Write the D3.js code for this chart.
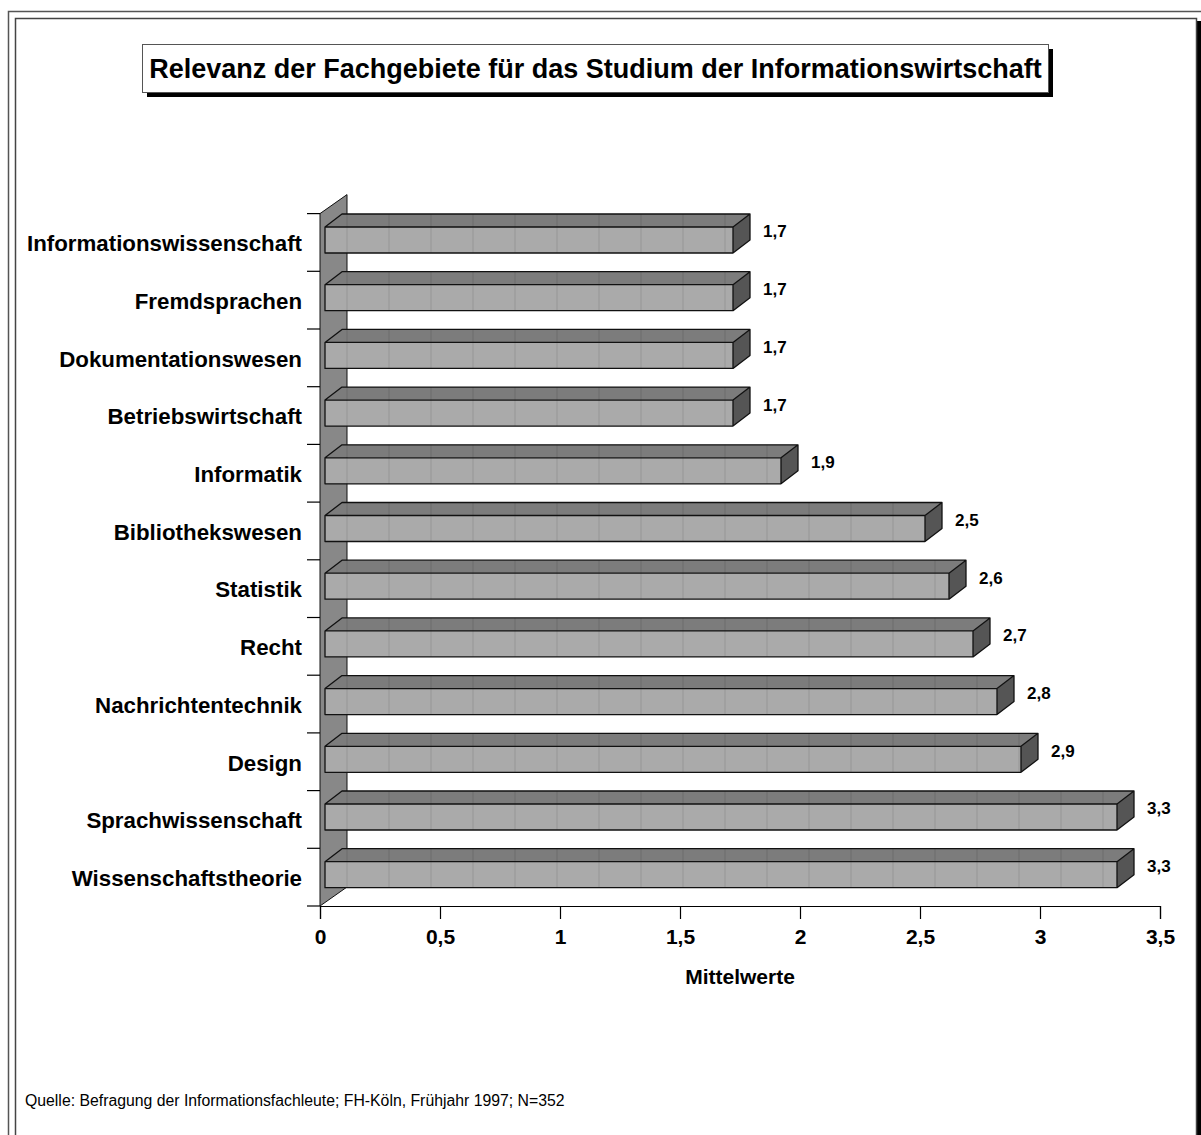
<!DOCTYPE html>
<html>
<head>
<meta charset="utf-8">
<script src="https://cdn.jsdelivr.net/npm/d3@7"></script>
<style>
  body { margin: 0; background: #fff; }
  svg { display: block; font-family: "Liberation Sans", Arial, sans-serif; }
</style>
</head>
<body>
<svg width="1201" height="1135"></svg>
<script>
// data
const categories = [
  "Informationswissenschaft", "Fremdsprachen", "Dokumentationswesen",
  "Betriebswirtschaft", "Informatik", "Bibliothekswesen", "Statistik",
  "Recht", "Nachrichtentechnik", "Design", "Sprachwissenschaft",
  "Wissenschaftstheorie"
];
const values = [1.7, 1.7, 1.7, 1.7, 1.9, 2.5, 2.6, 2.7, 2.8, 2.9, 3.3, 3.3];
const xTicks = [0, 0.5, 1, 1.5, 2, 2.5, 3, 3.5];

const titleText = "Relevanz der Fachgebiete für das Studium der Informationswirtschaft";
const axisTitle = "Mittelwerte";
const sourceText = "Quelle: Befragung der Informationsfachleute; FH-Köln, Frühjahr 1997; N=352";

const svg = d3.select("svg");
const fmt = d => String(d).replace(".", ",");

// frames
svg.append("rect").attr("x", 8.5).attr("y", 11.5).attr("width", 1200).attr("height", 1130)
  .attr("fill", "none").attr("stroke", "#555").attr("stroke-width", 1.5);
svg.append("rect").attr("x", 1197).attr("y", 21).attr("width", 6).attr("height", 1120).attr("fill", "#000");
svg.append("rect").attr("x", 15.5).attr("y", 18.5).attr("width", 1181).attr("height", 1125)
  .attr("fill", "#fff").attr("stroke", "#444").attr("stroke-width", 1.5);

// title box with shadow
svg.append("rect").attr("x", 147).attr("y", 49).attr("width", 906).attr("height", 48).attr("fill", "#000");
svg.append("rect").attr("x", 142.5).attr("y", 44.5).attr("width", 906).attr("height", 48)
  .attr("fill", "#fff").attr("stroke", "#555").attr("stroke-width", 1);
svg.append("text").attr("x", 595.5).attr("y", 78).attr("text-anchor", "middle")
  .attr("font-size", 27).attr("font-weight", "bold").text(titleText);

// scales
const x = d3.scaleLinear().domain([0, 3.5]).range([320, 1160]);
const y = d3.scaleBand().domain(categories).range([213.6, 906]);

const wallDx = 27, wallDy = -19;   // depth of the wall
const barDx = 17, barDy = -13;     // depth of a bar
const frontOff = 5;                // bar front face offset from wall front
const barTop = 13.4, barH = 26;

// left wall
const y0 = y.range()[0], y1 = y.range()[1];
svg.append("path")
  .attr("d", `M${x(0)},${y0} L${x(0) + wallDx},${y0 + wallDy} L${x(0) + wallDx},${y1 + wallDy} L${x(0)},${y1} Z`)
  .attr("fill", "#888").attr("stroke", "#111").attr("stroke-width", 1);

// category ticks on the wall front edge
const bounds = categories.map(c => y(c)).concat([y1]);
svg.append("g").selectAll("line").data(bounds).join("line")
  .attr("x1", 307).attr("x2", x(0)).attr("y1", d => d).attr("y2", d => d)
  .attr("stroke", "#000").attr("stroke-width", 1.2);

// x axis
const xAxis = svg.append("g").attr("transform", `translate(0,${y1})`)
  .call(d3.axisBottom(x).tickValues(xTicks).tickFormat(fmt).tickSize(13).tickPadding(10));
xAxis.select(".domain").attr("stroke", "#000").attr("stroke-width", 1.2);
xAxis.selectAll(".tick line").attr("stroke", "#000").attr("stroke-width", 1.2);
xAxis.selectAll(".tick text").attr("font-size", 21).attr("font-weight", "bold")
  .attr("font-family", "Liberation Sans, Arial, sans-serif").attr("fill", "#000");

svg.append("text").attr("x", (x(0) + x(3.5)) / 2).attr("y", 984).attr("text-anchor", "middle")
  .attr("font-size", 21).attr("font-weight", "bold").text(axisTitle);

// category labels
svg.append("g").selectAll("text").data(categories).join("text")
  .attr("x", 302).attr("y", d => y(d) + y.bandwidth() / 2 + 1).attr("dy", "0.35em")
  .attr("text-anchor", "end").attr("font-size", 22.3).attr("font-weight", "bold").text(d => d);

// 3d bars
const grid = d3.range(0, 21).map(k => x(k * 3.5 / 20) + wallDx);
const bars = svg.append("g").selectAll("g").data(values).join("g");

bars.each(function(v, i) {
  const g = d3.select(this);
  const fx0 = x(0) + frontOff, fx1 = x(v) + frontOff;
  const fy0 = y(categories[i]) + barTop, fy1 = fy0 + barH;
  g.append("path")
    .attr("d", `M${fx0},${fy0} L${fx0 + barDx},${fy0 + barDy} L${fx1 + barDx},${fy0 + barDy} L${fx1},${fy0} Z`)
    .attr("fill", "#7c7c7c");
  g.append("rect").attr("x", fx0).attr("y", fy0).attr("width", fx1 - fx0).attr("height", barH)
    .attr("fill", "#aaa");
  g.selectAll("line.grid").data(grid.filter(gx => gx > fx0 + barDx && gx < fx1 - 1)).join("line")
    .attr("class", "grid")
    .attr("x1", d => d).attr("x2", d => d).attr("y1", fy0 + barDy).attr("y2", fy1)
    .attr("stroke", "#000").attr("stroke-opacity", 0.12).attr("stroke-width", 1);
  g.append("path")
    .attr("d", `M${fx1},${fy0} L${fx1 + barDx},${fy0 + barDy} L${fx1 + barDx},${fy1 + barDy} L${fx1},${fy1} Z`)
    .attr("fill", "#555");
  // outlines
  g.append("path")
    .attr("d", `M${fx0},${fy1} L${fx0},${fy0} L${fx0 + barDx},${fy0 + barDy} L${fx1 + barDx},${fy0 + barDy} L${fx1 + barDx},${fy1 + barDy} L${fx1},${fy1} Z M${fx0},${fy0} L${fx1},${fy0} L${fx1 + barDx},${fy0 + barDy} M${fx1},${fy0} L${fx1},${fy1}`)
    .attr("fill", "none").attr("stroke", "#111").attr("stroke-width", 1.3).attr("stroke-linejoin", "round");
  g.append("text")
    .attr("x", x(v) + 35).attr("y", y(categories[i]) + y.bandwidth() / 2 - 11).attr("dy", "0.35em")
    .attr("font-size", 17).attr("font-weight", "bold").text(fmt(v));
});

// source note
svg.append("text").attr("x", 25).attr("y", 1106).attr("font-size", 15.8).text(sourceText);
</script>
</body>
</html>
